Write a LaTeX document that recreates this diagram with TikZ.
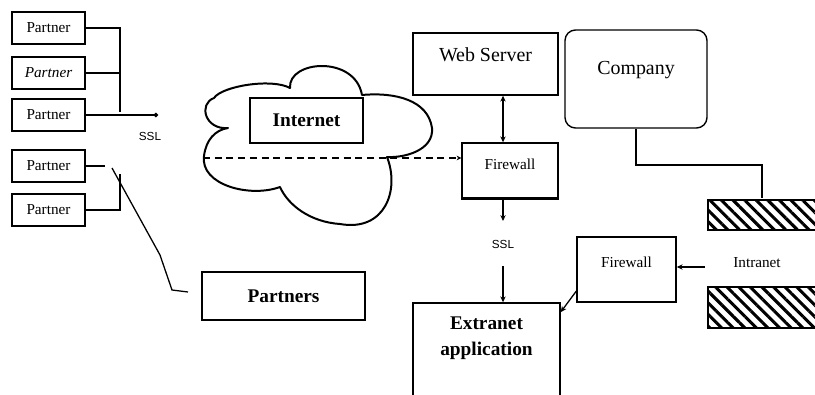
\documentclass[tikz,border=0pt]{standalone}
\usepackage{fontspec}
\setmainfont{Liberation Serif}
\newfontfamily\labelsans{Liberation Sans}
\usetikzlibrary{arrows.meta,patterns.meta,calc}

\begin{document}
\begin{tikzpicture}[x=0.03cm,y=-0.03cm,
  box/.style={draw, line width=1.2pt, inner sep=0pt},
  pbox/.style={box, line width=1.7pt, minimum width=2.19cm, minimum height=0.96cm,
    font=\fontsize{13}{13}\selectfont},
  bigtext/.style={font=\fontsize{17}{17}\selectfont},
  boldtext/.style={font=\fontsize{16.5}{22}\selectfont\bfseries},
  fwtext/.style={font=\fontsize{13}{13}\selectfont},
  ssltext/.style={font=\labelsans\fontsize{10}{10}\selectfont},
  link/.style={line width=1.1pt},
  buslink/.style={line width=1.3pt},
  tip/.style={-{Stealth[length=5pt,width=4.5pt]}},
  twotip/.style={{Stealth[length=5pt,width=4.5pt]}-{Stealth[length=5pt,width=4.5pt]}},
  hatchbox/.style={draw, line width=1.3pt, inner sep=0pt,
    pattern={Lines[angle=-45,distance=7pt,line width=2.6pt]}},
  cloudline/.style={line width=1.7pt, line join=round}]

\useasboundingbox (0,0) rectangle (815,395);

% partner column
\node[pbox] (p1) at (48.5,28)  {Partner};
\node[pbox] (p2) at (48.5,73)  {\itshape Partner};
\node[pbox] (p3) at (48.5,115) {Partner};
\node[pbox] (p4) at (48.5,166) {Partner};
\node[pbox] (p5) at (48.5,210) {Partner};

\coordinate (busTop) at (120,112);
\coordinate (busLow) at (120,174);
\coordinate (sslEnd) at (158,115);
\coordinate (p4End) at (105,166);
\coordinate (diagA) at (112,168);
\coordinate (diagB) at (160,255);
\coordinate (diagC) at (172,290);
\coordinate (diagD) at (188,292);

\draw[buslink] (p1.east) -| (busTop);
\draw[buslink] (p2.east) -- (p2.east -| busTop);
\draw[line width=1.8pt, -{Circle[length=3.5pt]}] (p3.east) -- (sslEnd);
\draw[buslink] (p4.east) -- (p4End);
\draw[buslink] (p5.east) -| (busLow);
\draw[link] (diagA) -- (diagB) -- (diagC) -- (diagD);
\node[ssltext] (ssl1) at (150,136) {SSL};

% internet cloud
\draw[cloudline] (214,98)
  .. controls (222,86) and (272,78) .. (290,88)
  .. controls (288,60) and (355,55) .. (362,95)
  .. controls (395,92) and (428,100) .. (432,128)
  .. controls (434,150) and (405,158) .. (387,157)
  .. controls (400,190) and (385,232) .. (340,224)
  .. controls (310,222) and (288,205) .. (280,187)
  .. controls (250,198) and (200,185) .. (204,156)
  .. controls (206,140) and (215,130) .. (228,128)
  .. controls (205,130) and (198,104) .. (214,98) -- cycle;
\node[box, minimum width=3.39cm, minimum height=1.35cm, boldtext] (inet) at (306.5,120.5) {Internet};

% web server and its firewall
\node[box, minimum width=4.35cm, minimum height=1.86cm,
  label={[bigtext, yshift=0.27cm]center:Web Server}] (ws) at (485.5,64) {};
\node[box, minimum width=2.88cm, minimum height=1.65cm,
  label={[fwtext, yshift=0.2cm]center:Firewall}] (fw1) at (510,170.5) {};
\draw[line width=2.6pt] (fw1.south west) -- (fw1.south east);

\coordinate (col) at (503,0);
\coordinate (dashStart) at (203,158);
\draw[link, dashed, dash pattern=on 6pt off 4pt, -{Stealth[length=4pt,width=4pt]}] (dashStart) -- (dashStart -| fw1.west);
\draw[link, twotip] (ws.south -| col) -- (fw1.north -| col);

\node[ssltext] (ssl2) at (503,244) {SSL};
\coordinate (sslAbove) at (503,221);
\coordinate (sslBelow) at (503,266);
\draw[link, tip] (fw1.south -| col) -- (sslAbove);

% extranet application
\node[box, minimum width=4.41cm, minimum height=2.91cm,
  label={[boldtext, align=center, yshift=0.39cm]center:Extranet\\application}] (ea) at (486.5,351.5) {};
\draw[link, tip] (sslBelow) -- (ea.north -| col);

% partners
\node[box, minimum width=4.89cm, minimum height=1.44cm, boldtext] (pt) at (283.5,296) {Partners};

% company and intranet
\node[box, rounded corners=9pt, minimum width=4.26cm, minimum height=2.94cm,
  label={[bigtext, yshift=0.27cm]center:Company}] (co) at (636,79) {};
\node[hatchbox, minimum width=3.36cm, minimum height=0.9cm] (ib1) at (764,215) {};
\node[hatchbox, minimum width=3.36cm, minimum height=1.23cm] (ib2) at (764,307.5) {};
\node[fwtext] (intra) at (757,263) {Intranet};
\coordinate (bend) at (762,165);
\draw[buslink] (co.south) |- (bend) -- (bend |- ib1.north);

% intranet firewall
\node[box, minimum width=2.97cm, minimum height=1.95cm,
  label={[fwtext, yshift=0.22cm]center:Firewall}] (fw2) at (626.5,269.5) {};
\coordinate (inPoint) at (705,267);
\draw[link, tip] (inPoint) -- (inPoint -| fw2.east);
\draw[link, tip] ($(fw2.west)!0.65!(fw2.south west)$) -- ($(ea.north east)!0.1!(ea.south east)$);

\end{tikzpicture}
\end{document}
